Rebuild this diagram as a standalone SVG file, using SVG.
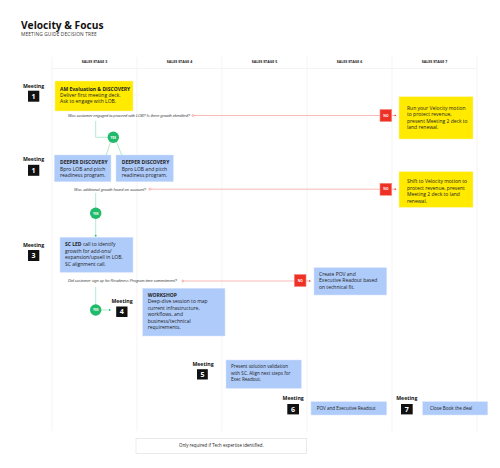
<svg xmlns="http://www.w3.org/2000/svg" width="500" height="468" viewBox="0 0 500 468">
<style>
text{font-family:"Open Sans","Liberation Sans",sans-serif;fill:#222}
.hd{font-size:3.6px;font-weight:700;text-anchor:middle}
.grid{stroke:#ececec;stroke-width:0.6;fill:none}
.mt{font-size:5.2px;font-weight:700;text-anchor:middle;fill:#111}
.mn{font-size:7px;font-weight:700;text-anchor:middle;fill:#fff}
.mb{fill:#111}
.yel{fill:#ffea00;stroke:#fff3a0;stroke-width:0.5}
.blu{fill:#aecbfa;stroke:#d5e4fc;stroke-width:0.5}
.t{font-size:5px}
.b{font-weight:700}
.q{font-family:"Liberation Sans","DejaVu Sans",sans-serif;font-size:4px;font-style:italic;fill:#444}
.gl{stroke:#9fe3bf;stroke-width:0.8;fill:none}
.rl{stroke:#f7a9a4;stroke-width:0.8;fill:none}
.yes{fill:#1fba6a}
.yt{font-size:3.2px;font-weight:700;text-anchor:middle;fill:#fff}
.no{fill:#ee3124;stroke:#f58a80;stroke-width:0.6}
.nt{font-size:3.2px;font-weight:700;text-anchor:middle;fill:#fff}
.gd{fill:#1fba6a}
.rd{fill:#ee3124}
</style>
<rect width="500" height="468" fill="#fff"/>
<g id="title">
<text x="21" y="29.3" style="font-size:10.2px;font-weight:700;fill:#111">Velocity &amp; Focus</text>
<text x="21" y="36.2" textLength="75.7" style="font-size:4.8px;fill:#333">MEETING GUIDE DECISION TREE</text>
</g>
<g id="grid">
<path class="grid" d="M52 57V431M137 57V431M222 57V431M307 57V431M392 57V431M477 57V431M52 68.5H477"/>
<text class="hd" x="94.5" y="63">SALES STAGE 3</text>
<text class="hd" x="179.5" y="63">SALES STAGE 4</text>
<text class="hd" x="264.5" y="63">SALES STAGE 5</text>
<text class="hd" x="349.5" y="63">SALES STAGE 6</text>
<text class="hd" x="434.5" y="63">SALES STAGE 7</text>
</g>
<g id="connectors">
<path class="gl" d="M95.7 121V137.3H107.6"/>
<path class="gl" d="M110.5 142.3L106 155.7M116.5 142.3L122 155.7"/>
<circle class="gd" cx="106" cy="155.7" r="0.9"/>
<circle class="gd" cx="122" cy="155.7" r="0.9"/>
<path class="gl" d="M95.7 193V235.7"/>
<circle class="gd" cx="95.7" cy="235.7" r="0.9"/>
<path class="gl" d="M95.7 287V310H109"/>
<path class="gd" d="M111 310l-2-1.2v2.4z"/>
<path class="rl" d="M194 115.5H380M392 115.5H395"/>
<circle cx="193" cy="115.5" r="1" fill="#fff" stroke="#ef6a60" stroke-width="0.5"/>
<path class="rd" d="M396.5 115.5l-1.8-1.1v2.2z"/>
<path class="rl" d="M151 189.2H380M392 189.2H395"/>
<circle cx="150" cy="189.2" r="1" fill="#fff" stroke="#ef6a60" stroke-width="0.5"/>
<path class="rd" d="M396.5 189.2l-1.8-1.1v2.2z"/>
<path class="rl" d="M183.8 281H294.3M306 281H309.5"/>
<circle cx="182.8" cy="281" r="1" fill="#fff" stroke="#ef6a60" stroke-width="0.5"/>
<path class="rd" d="M311 281l-1.8-1.1v2.2z"/>
</g>
<g id="yes1"><circle class="yes" cx="113.3" cy="137.3" r="5.7"/><text class="yt" x="113.3" y="138.5">YES</text></g>
<g id="yes2"><circle class="yes" cx="95.7" cy="213.3" r="5.7"/><text class="yt" x="95.7" y="214.5">YES</text></g>
<g id="yes3"><circle class="yes" cx="95.7" cy="310" r="5.7"/><text class="yt" x="95.7" y="311.2">YES</text></g>
<g id="no1"><rect class="no" x="380" y="109.5" width="11.7" height="12"/><text class="nt" x="385.9" y="116.7">NO</text></g>
<g id="no2"><rect class="no" x="380" y="183.3" width="11.7" height="12"/><text class="nt" x="385.9" y="190.4">NO</text></g>
<g id="no3"><rect class="no" x="294.3" y="274.5" width="11.7" height="12"/><text class="nt" x="300.2" y="281.7">NO</text></g>
<g id="q1"><text class="q" x="68" y="117" textLength="122">Was customer engaged to proceed with LOB? Is there growth identified?</text></g>
<g id="q2"><text class="q" x="74" y="190.6" textLength="72">Was additional growth found on account?</text></g>
<g id="q3"><text class="q" x="68" y="282.4" textLength="109">Did customer sign up for Readiness Program time commitment?</text></g>
<g id="meeting1a"><text class="mt" x="33.5" y="88">Meeting</text><rect class="mb" x="28" y="90.7" width="11.3" height="11"/><text class="mn" x="33.6" y="98.8">1</text></g>
<g id="meeting1b"><text class="mt" x="33.5" y="160.5">Meeting</text><rect class="mb" x="28" y="164.8" width="11.3" height="11"/><text class="mn" x="33.6" y="172.9">1</text></g>
<g id="meeting3"><text class="mt" x="33.5" y="246.5">Meeting</text><rect class="mb" x="28" y="250" width="11.3" height="11"/><text class="mn" x="33.6" y="258.1">3</text></g>
<g id="meeting4"><text class="mt" x="122" y="302.5">Meeting</text><rect class="mb" x="116.2" y="306.5" width="11.3" height="10.5"/><text class="mn" x="121.8" y="314.3">4</text></g>
<g id="meeting5"><text class="mt" x="203" y="365.5">Meeting</text><rect class="mb" x="197" y="369.2" width="10.8" height="10.3"/><text class="mn" x="202.4" y="376.9">5</text></g>
<g id="meeting6"><text class="mt" x="293.2" y="400.3">Meeting</text><rect class="mb" x="287.3" y="404" width="11.7" height="10.4"/><text class="mn" x="293.1" y="411.7">6</text></g>
<g id="meeting7"><text class="mt" x="406.8" y="400.3">Meeting</text><rect class="mb" x="401" y="404" width="11.7" height="10.4"/><text class="mn" x="406.8" y="411.7">7</text></g>
<g id="am-discovery"><rect class="yel" x="55" y="81" width="78" height="30"/>
<text class="t" x="60" y="90.5"><tspan class="b">AM Evaluation &amp; DISCOVERY</tspan><tspan x="60" dy="6.3">Deliver first meeting deck.</tspan><tspan x="60" dy="6.3">Ask to engage with LOB.</tspan></text></g>
<g id="velocity-1"><rect class="yel" x="399" y="96.7" width="74" height="42.3"/>
<text class="t" x="407" y="109.5">Run your Velocity motion<tspan x="407" dy="6.5">to protect revenue,</tspan><tspan x="407" dy="6.5">present Meeting 2 deck to</tspan><tspan x="407" dy="6.5">land renewal.</tspan></text></g>
<g id="deeper-1"><rect class="blu" x="54.3" y="155" width="56.7" height="26.7"/>
<text class="t" x="60" y="164.3"><tspan class="b">DEEPER DISCOVERY</tspan><tspan x="60" dy="6.3">Bpro LOB and pitch</tspan><tspan x="60" dy="6.3">readiness program.</tspan></text></g>
<g id="deeper-2"><rect class="blu" x="116" y="155" width="57.3" height="26.7"/>
<text class="t" x="121.7" y="164.3"><tspan class="b">DEEPER DISCOVERY</tspan><tspan x="121.7" dy="6.3">Bpro LOB and pitch</tspan><tspan x="121.7" dy="6.3">readiness program.</tspan></text></g>
<g id="velocity-2"><rect class="yel" x="399" y="171.7" width="74" height="35.6"/>
<text class="t" x="407" y="183.3">Shift to Velocity motion to<tspan x="407" dy="6.4">protect revenue, present</tspan><tspan x="407" dy="6.4">Meeting 2 deck to land</tspan><tspan x="407" dy="6.4">renewal.</tspan></text></g>
<g id="sc-led"><rect class="blu" x="60" y="237.3" width="73" height="35"/>
<text class="t" x="65" y="246.3"><tspan class="b">SC LED</tspan> call to identify<tspan x="65" dy="6.5">growth for add-ons/</tspan><tspan x="65" dy="6.5">expansion/upsell in LOB.</tspan><tspan x="65" dy="6.5">SC alignment call.</tspan></text></g>
<g id="pov-create"><rect class="blu" x="314" y="267.7" width="72.7" height="27.3"/>
<text class="t" x="319" y="275.8">Create POV and<tspan x="319" dy="6.5">Executive Readout based</tspan><tspan x="319" dy="6.5">on technical fit.</tspan></text></g>
<g id="workshop"><rect class="blu" x="142.7" y="288.3" width="82.3" height="47.7"/>
<text class="t" x="147.7" y="296.5"><tspan class="b">WORKSHOP</tspan><tspan x="147.7" dy="6.5">Deep-dive session to map</tspan><tspan x="147.7" dy="6.5">current infrastructure,</tspan><tspan x="147.7" dy="6.5">workflows, and</tspan><tspan x="147.7" dy="6.5">business/technical</tspan><tspan x="147.7" dy="6.5">requirements.</tspan></text></g>
<g id="validation"><rect class="blu" x="226" y="360" width="75.3" height="28.3"/>
<text class="t" x="231" y="368.3" style="font-size:4.6px">Present solution validation<tspan x="231" dy="6.5">with SC. Align next steps for</tspan><tspan x="231" dy="6.5">Exec Readout.</tspan></text></g>
<g id="pov-readout"><rect class="blu" x="311" y="401.7" width="75.7" height="13.3"/>
<text class="t" x="316.7" y="410" style="font-size:4.6px">POV and Executive Readout</text></g>
<g id="close"><rect class="blu" x="422.7" y="401.7" width="65" height="13.3"/>
<text class="t" x="430" y="410" style="font-size:4.6px">Close Book the deal</text></g>
<g id="footer"><rect x="136" y="438.3" width="170.7" height="15" fill="#fff" stroke="#dcdcdc" stroke-width="0.6"/>
<text x="221.3" y="447.2" style="font-size:4.4px;text-anchor:middle">Only required if Tech expertise identified.</text></g>
</svg>
